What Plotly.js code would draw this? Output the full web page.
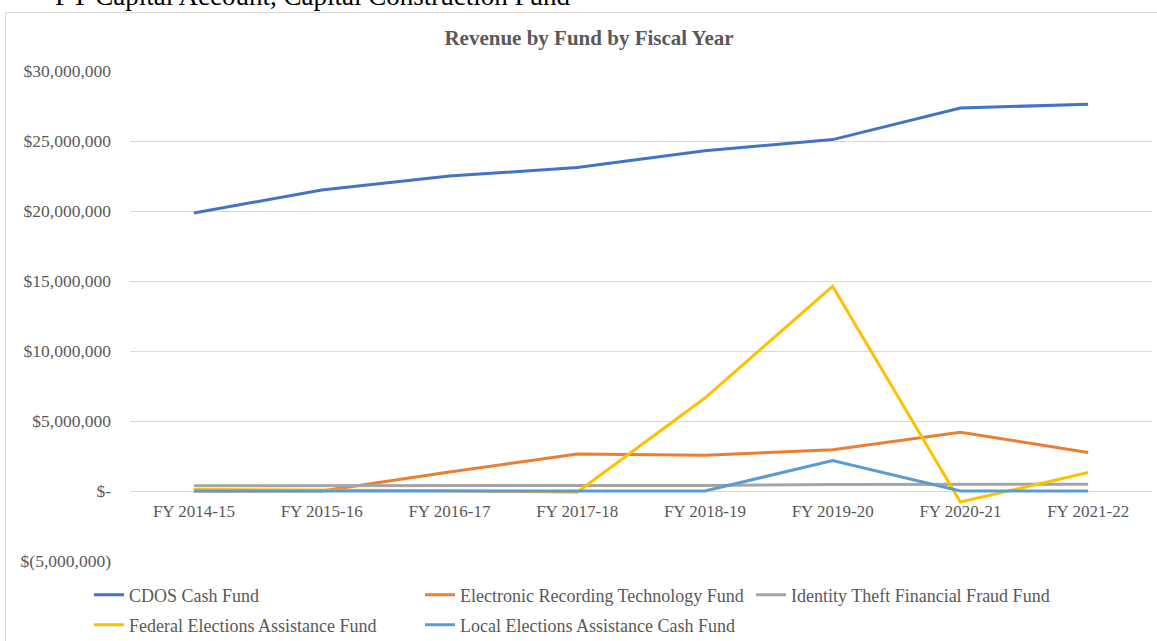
<!DOCTYPE html>
<html>
<head>
<meta charset="utf-8">
<script src="https://cdn.plot.ly/plotly-3.0.1.min.js"></script>
<style>
  html, body { margin: 0; padding: 0; background: #ffffff; }
  #chart { width: 1157px; height: 641px; }
</style>
</head>
<body>
<div id="chart"></div>
<script>
// ---- data ----
var categories = ["FY 2014-15", "FY 2015-16", "FY 2016-17", "FY 2017-18", "FY 2018-19", "FY 2019-20", "FY 2020-21", "FY 2021-22"];
var cdosCash = [19860000, 21500000, 22500000, 23100000, 24310000, 25100000, 27360000, 27620000];
var electronicRecording = [0, 0, 1350000, 2640000, 2560000, 2950000, 4200000, 2750000];
var identityTheft = [380000, 380000, 380000, 380000, 400000, 460000, 480000, 480000];
var federalElections = [100000, 80000, 20000, -80000, 6640000, 14620000, -790000, 1320000];
var localElections = [0, 0, 0, 0, 0, 2180000, 0, 0];
var seriesNames = ["CDOS Cash Fund", "Electronic Recording Technology Fund", "Identity Theft Financial Fraud Fund", "Federal Elections Assistance Fund", "Local Elections Assistance Cash Fund"];
var yTickValues = [-5000000, 0, 5000000, 10000000, 15000000, 20000000, 25000000, 30000000];
var yTickLabels = ["$(5,000,000)", "$-", "$5,000,000", "$10,000,000", "$15,000,000", "$20,000,000", "$25,000,000", "$30,000,000"];
var chartTitle = "Revenue by Fund by Fiscal Year";
var pageHeading = "FY Capital Account, Capital Construction Fund";

// ---- styles ----
var FONT = "Liberation Serif, Times New Roman, serif";
var GREY = "#595959";
var colors = ["#4472C4", "#ED7D31", "#A5A5A5", "#FFC000", "#5B9BD5"];
var values = [cdosCash, electronicRecording, identityTheft, federalElections, localElections];
var legendOf = ["legend", "legend", "legend", "legend2", "legend2"];

var traces = values.map(function (v, i) {
  return {
    type: "scatter",
    mode: "lines",
    x: categories,
    y: v,
    name: seriesNames[i],
    legend: legendOf[i],
    line: { color: colors[i], width: 3 },
    hoverinfo: "x+y+name"
  };
});

// plot area in pixels: x 130..1152, y 71..561
var W = 1157, H = 641;
var PL = 130, PR = 1152, PT = 71, PB = 561;
function px2x(px) { return (px - PL) / (PR - PL); }
function py2y(py) { return (PB - py) / (PB - PT); }
function cx(px) { return px / W; }
function cy(py) { return 1 - py / H; }

var legendCommon = {
  orientation: "h",
  xref: "container", yref: "container",
  xanchor: "left", yanchor: "middle",
  entrywidth: 286,
  entrywidthmode: "pixels",
  font: { family: FONT, size: 18, color: GREY },
  bgcolor: "rgba(0,0,0,0)",
  traceorder: "normal",
  itemclick: false, itemdoubleclick: false
};

var layout = {
  width: W,
  height: H,
  margin: { l: PL, r: W - PR, t: PT, b: H - PB, pad: 0, autoexpand: false },
  paper_bgcolor: "#ffffff",
  plot_bgcolor: "#ffffff",
  font: { family: FONT, color: GREY, size: 16 },
  title: {
    text: "<b>" + chartTitle + "</b>",
    font: { family: FONT, size: 21, color: GREY },
    x: 589 / W, xanchor: "center", xref: "container",
    y: 1 - 38 / H, yanchor: "middle", yref: "container"
  },
  xaxis: {
    type: "category",
    range: [-0.5, categories.length - 0.5],
    anchor: "free",
    position: (0 - (-5000000)) / 35000000,
    showgrid: false,
    showline: false,
    zeroline: false,
    ticks: "",
    ticklabelstandoff: 8,
    tickfont: { family: FONT, size: 17, color: GREY },
    fixedrange: true
  },
  yaxis: {
    range: [-5000000, 30000000],
    tickvals: yTickValues,
    ticktext: yTickLabels,
    showgrid: true,
    gridcolor: "#d9d9d9",
    gridwidth: 1,
    zeroline: false,
    showline: false,
    ticks: "",
    ticklabelstandoff: 18,
    tickfont: { family: FONT, size: 17.5, color: GREY },
    fixedrange: true
  },
  showlegend: true,
  legend: Object.assign({}, legendCommon, { x: cx(89), y: cy(595) }),
  legend2: Object.assign({}, legendCommon, { x: cx(89), y: cy(625) }),
  shapes: [{
    type: "rect", xref: "paper", yref: "paper",
    x0: px2x(5.5), x1: px2x(1160), y0: py2y(660), y1: py2y(12.5),
    line: { color: "#d9d9d9", width: 1 },
    fillcolor: "rgba(0,0,0,0)",
    layer: "below"
  }],
  annotations: [{
    text: pageHeading,
    xref: "paper", yref: "paper",
    x: px2x(53), xanchor: "left",
    y: py2y(-4), yanchor: "middle",
    showarrow: false,
    font: { family: FONT, size: 27, color: "#000000" }
  }]
};

Plotly.newPlot("chart", traces, layout, { displayModeBar: false, staticPlot: false });
</script>
</body>
</html>
